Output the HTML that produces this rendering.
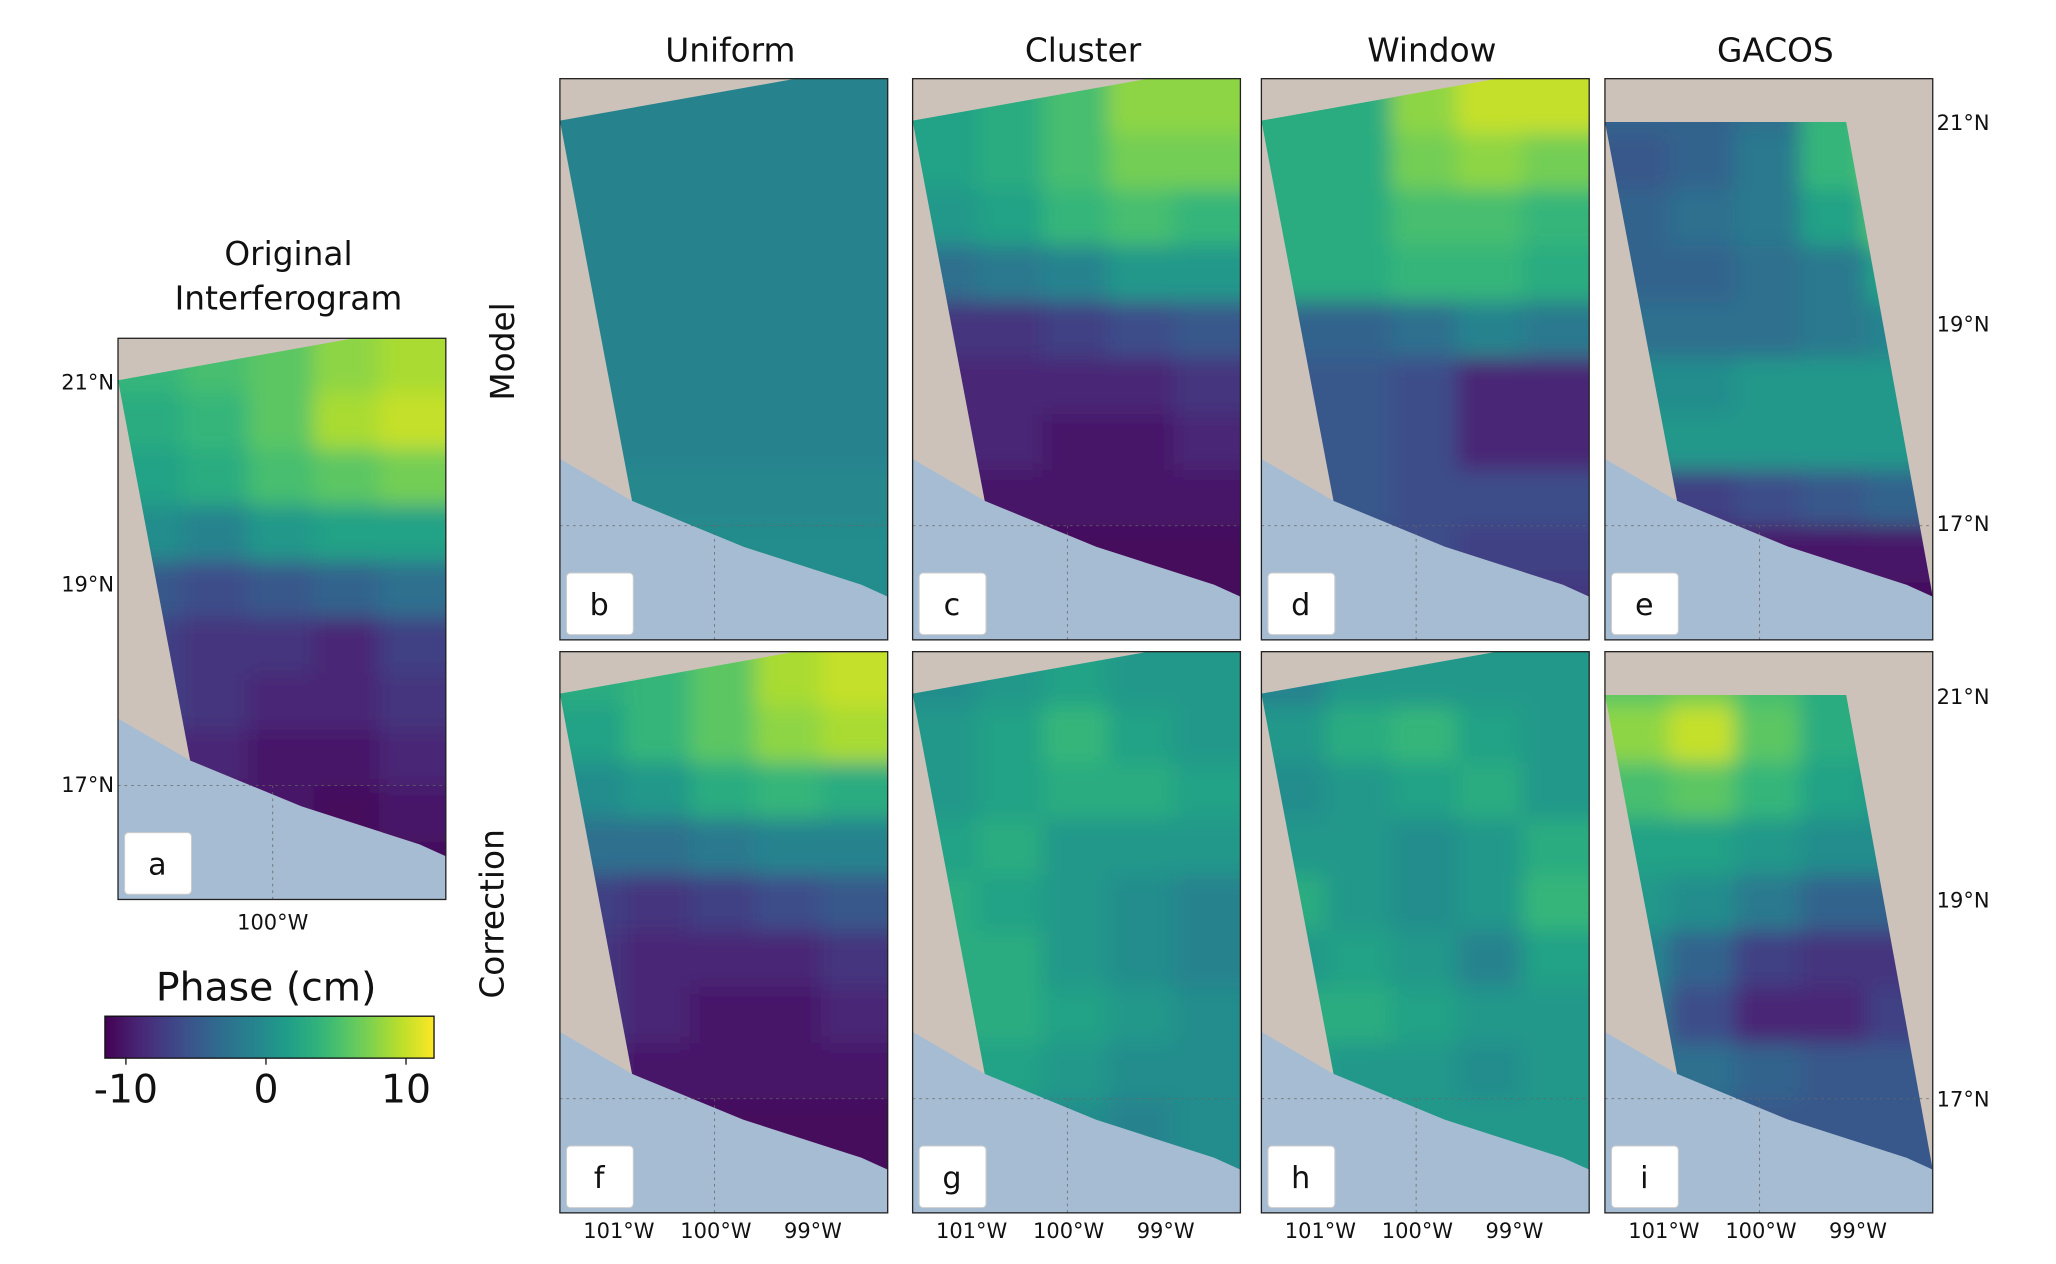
<!DOCTYPE html>
<html><head><meta charset="utf-8"><style>
html,body{margin:0;padding:0;background:#fff}
svg{display:block;font-family:"DejaVu Sans","Liberation Sans",sans-serif}
</style></head><body>
<svg id="fig" width="2056" height="1264" viewBox="0 0 1568 964" xmlns="http://www.w3.org/2000/svg">
<defs>
<filter id="blur" x="-10%" y="-10%" width="120%" height="120%"><feGaussianBlur stdDeviation="8"/></filter>
<linearGradient id="cbgrad" x1="0" x2="1" y1="0" y2="0"></linearGradient>
</defs>
<g id="root"></g>
</svg>
<script>
// ---- data: phase values (cm) on a coarse 10-row x 5-col grid per panel ----
const panelIds = ['a','b','c','d','e','f','g','h','i'];
const colTitles = ['Uniform','Cluster','Window','GACOS'];
const cbTicks = [-10,0,10];
const latTicks = ['21°N','19°N','17°N'];
const lonTicks = ['101°W','100°W','99°W'];
const phaseA = [[4,5,6,8,9],[3,4,6,9,10],[2,3,5,6,7],[0,-1,1,2,2],[-5,-6,-5,-4,-3],[-7,-8,-8,-9,-7],[-7,-8,-9,-9,-8],[-9,-9,-10,-10,-9],[-10,-10,-10,-11,-10],[-11,-11,-11,-11,-11]];
const phaseB = [[-1,-1,-1,-1,-1],[-1,-1,-1,-1,-1],[-1,-1,-1,-1,-1],[-1,-1,-1,-1,-1],[-1,-1,-1,-1,-1],[-1,-1,-1,-1,-1],[-1,-1,-1,-1,-1],[-0.5,-0.5,-0.5,-0.5,-0.5],[0,0,0,0,0],[0,0,0,0,0]];
const phaseC = [[2,3,5,8,8],[2,3,5,7,7],[1,2,4,5,4],[-3,-2,-1,1,1],[-8,-8,-7,-6,-5],[-9,-9,-9,-9,-8],[-9,-9,-10,-10,-9],[-10,-10,-10,-10,-10],[-11,-11,-11,-11,-11],[-11,-11,-11,-11,-11]];
const phaseD = [[3,3,8,10,10],[3,3,7,8,7],[3,3,5,5,4],[3,3,4,4,3],[-4,-4,-3,-1,-2],[-5,-5,-6,-9,-9],[-5,-5,-6,-9,-9],[-5,-5,-6,-6,-6],[-6,-6,-6,-7,-7],[-7,-7,-7,-8,-8]];
const phaseE = [[-4,-4,-3,4,7],[-5,-4,-2,4,7],[-4,-3,-2,2,6],[-4,-4,-3,-2,2],[-3,-3,-3,-2,-1],[0,0,1,1,1],[1,1,1,1,1],[-7,-7,-6,-5,-4],[-10,-10,-10,-10,-10],[-11,-11,-11,-11,-11]];
const phaseF = [[3,4,6,9,10],[2,4,6,8,9],[0,1,3,4,3],[-3,-3,-2,-1,-1],[-7,-8,-7,-6,-5],[-8,-9,-9,-9,-8],[-8,-9,-10,-10,-9],[-9,-10,-10,-10,-10],[-10,-10,-11,-11,-11],[-11,-11,-11,-11,-11]];
const phaseG = [[0,1,2,1,1],[1,2,4,2,1],[1,2,3,3,2],[2,3,1,1,1],[3,2,1,0,-1],[3,3,1,0,-1],[3,3,2,1,0],[2,2,1,0,0],[0,0,0,-1,0],[0,0,0,0,0]];
const phaseH = [[-1,1,1,1,1],[1,3,4,2,1],[0,1,2,3,1],[1,1,0,1,3],[3,1,0,1,4],[1,2,1,-1,2],[3,3,2,1,1],[2,1,1,0,1],[1,1,1,1,1],[1,1,1,1,1]];
const phaseI = [[6,7,5,3,3],[8,10,6,3,2],[5,6,4,2,1],[2,2,1,0,0],[1,0,-2,-4,-4],[-1,-4,-7,-8,-8],[-2,-6,-9,-9,-7],[-3,-3,-4,-5,-5],[-4,-4,-5,-5,-5],[-5,-5,-5,-5,-5]];
const panelData = [phaseA,phaseB,phaseC,phaseD,phaseE,phaseF,phaseG,phaseH,phaseI];

const VIR=[[68,1,84],[72,40,120],[62,74,137],[49,104,142],[38,130,142],[31,158,137],[53,183,121],[109,205,89],[180,222,44],[253,231,37]];
function vir(t){t=Math.max(0,Math.min(1,t));const f=t*(VIR.length-1),i=Math.min(Math.floor(f),VIR.length-2),r=f-i;
 const c=VIR[i].map((v,k)=>Math.round(v+(VIR[i+1][k]-v)*r));return `rgb(${c[0]},${c[1]},${c[2]})`;}
const vMin=-11.5,vMax=12;
function colorOf(v){return vir((v-vMin)/(vMax-vMin));}

const NS='http://www.w3.org/2000/svg';
const root=document.getElementById('root');
function mk(tag,attrs,parent){const e=document.createElementNS(NS,tag);for(const k in attrs)e.setAttribute(k,attrs[k]);(parent||root).appendChild(e);return e;}
function txt(s,attrs,parent){const e=mk('text',attrs,parent);e.textContent=s;return e;}

const PW=250,PH=428;
const panels=[
 {x:90,y:258},{x:427,y:60},{x:696,y:60},{x:962,y:60},{x:1224,y:60},
 {x:427,y:497},{x:696,y:497},{x:962,y:497},{x:1224,y:497}];
const swathStd=[[0,32],[180,0],[250,0],[250,395],[230,386],[140,357],[55,322]];
const swathG=[[0,33],[184,33],[250,395],[230,386],[140,357],[55,322]];
const seaPts=[[0,290],[55,322],[140,357],[230,386],[250,393],[250,428],[0,428]];
function ptsStr(p,ox,oy){return p.map(q=>(q[0]+ox)+','+(q[1]+oy)).join(' ');}

panels.forEach((p,pi)=>{
 const id=panelIds[pi];
 const g=mk('g',{});
 
 
 const cp=mk('clipPath',{id:'clip'+id},g);
 const sw=(pi===4||pi===8)?swathG:swathStd;
 mk('polygon',{points:ptsStr(sw,p.x,p.y)},cp);
 const bg=mk('rect',{x:p.x,y:p.y,width:PW,height:PH,fill:'#cdc2b9'},g);
 
 
 const sea=mk('polygon',{points:ptsStr(seaPts,p.x,p.y),fill:'#a6bcd3'},g);
 
 
 const cg=mk('g',{'clip-path':`url(#clip${id})`},g);
 const bl=mk('g',{filter:'url(#blur)'},cg);
 const data=panelData[pi],rows=data.length,cols=data[0].length;
 const ch=PH/rows,cw=PW/cols;
 data.forEach((row,r)=>row.forEach((v,c)=>{
  let x=p.x+c*cw-1,y=p.y+r*ch-1,w=cw+2,h=ch+2;
  if(c===0){x-=25;w+=25;} if(c===cols-1){w+=25;}
  if(r===0){y-=25;h+=25;} if(r===rows-1){h+=25;}
  const cell=mk('rect',{x:x,y:y,width:w,height:h,fill:colorOf(v)},bl);
  
  
 }));
 mk('line',{x1:p.x,x2:p.x+PW,y1:p.y+341,y2:p.y+341,stroke:'#666','stroke-dasharray':'2,3','stroke-width':0.6},g);
 mk('line',{x1:p.x+118,x2:p.x+118,y1:p.y+341,y2:p.y+PH,stroke:'#666','stroke-dasharray':'2,3','stroke-width':0.6},g);
 mk('rect',{x:p.x,y:p.y,width:PW,height:PH,fill:'none',stroke:'#222','stroke-width':1},g);
 const lb=mk('rect',{x:p.x+5,y:p.y+377,width:51,height:47,rx:3,fill:'#fff',stroke:'#ccc','stroke-width':0.8},g);
 
 
 const lt=txt(id,{x:p.x+30,y:p.y+409,'font-size':23,'text-anchor':'middle',fill:'#111'},g);
 
 
});

colTitles.forEach((t,i)=>{
 const e=txt(t,{x:panels[i+1].x+PW/2+5,y:47,'font-size':25,'text-anchor':'middle',fill:'#111'});
 
 
});
const t1=txt('Original',{x:220,y:202,'font-size':25,'text-anchor':'middle',fill:'#111'});


const t2=txt('Interferogram',{x:220,y:236,'font-size':25,'text-anchor':'middle',fill:'#111'});


const rm=txt('Model',{x:0,y:0,'font-size':25,'text-anchor':'middle',fill:'#111',transform:'translate(392,268) rotate(-90)'});


const rc=txt('Correction',{x:0,y:0,'font-size':25,'text-anchor':'middle',fill:'#111',transform:'translate(384,697) rotate(-90)'});



const latYTop=[93,247,399],latYBot=[531,686,838],latYA=[291,445,598];
latTicks.forEach((l,i)=>{
 [latYTop[i],latYBot[i]].forEach(y=>{
  const e=txt(l,{x:1477,y:y+6,'font-size':16,fill:'#111'});
  
  
 });
 const e=txt(l,{x:87,y:latYA[i]+6,'font-size':16,'text-anchor':'end',fill:'#111'});
 
 
});
const lonOff=[45,119,193];
[1,2,3,4].forEach(pi=>{
 lonTicks.forEach((l,i)=>{
  const e=txt(l,{x:panels[pi].x+lonOff[i],y:944,'font-size':16,'text-anchor':'middle',fill:'#111'});
  
  
 });
});
const la=txt('100°W',{x:208,y:709,'font-size':16,'text-anchor':'middle',fill:'#111'});



const grad=document.getElementById('cbgrad');
for(let k=0;k<=20;k++){mk('stop',{offset:(k/20),'stop-color':vir(k/20)},grad);}
const cbx=80,cbw=251,cby=775,cbh=32;
const cb=mk('rect',{x:cbx,y:cby,width:cbw,height:cbh,fill:'url(#cbgrad)',stroke:'#111','stroke-width':1});


const ct=txt('Phase (cm)',{x:203,y:763,'font-size':30,'text-anchor':'middle',fill:'#111'});


function cbX(v){return cbx+(v-vMin)/(vMax-vMin)*cbw;}
cbTicks.forEach(v=>{
 mk('line',{x1:cbX(v),x2:cbX(v),y1:cby+cbh,y2:cby+cbh+5,stroke:'#111'});
 const e=txt(String(v),{x:cbX(v),y:841,'font-size':30,'text-anchor':'middle',fill:'#111'});
 
 
});
</script>
</body></html>
